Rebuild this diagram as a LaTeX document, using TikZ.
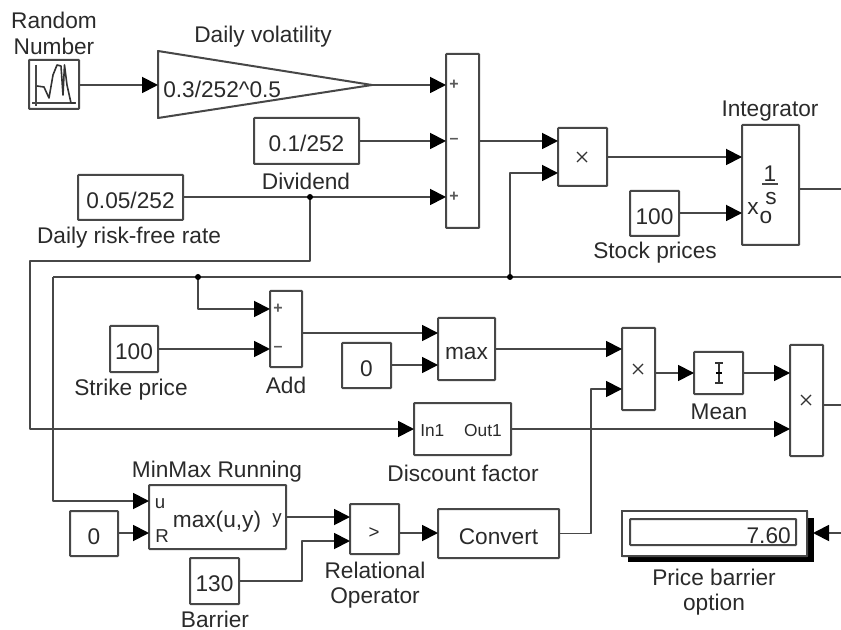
\documentclass[tikz,border=0pt]{standalone}
\usepackage{fontspec}
\setmainfont{Liberation Sans}
\usetikzlibrary{arrows.meta}
\definecolor{wirec}{HTML}{474747}
\definecolor{textc}{HTML}{2A2A2A}
\tikzset{
  x=0.75pt,y=-0.75pt,
  wire/.style={draw=wirec,line width=1.4pt,line join=round},
  arr/.style={wire,-{Triangle[length=12pt,width=12pt,fill=black,color=black]}},
  blockbox/.style={draw=wirec,line width=1.5pt,inner sep=0pt,outer sep=0pt,rounded corners=0.5pt,font=\fontsize{17}{19}\selectfont,text=textc,align=center},
  lab/.style={font=\fontsize{17}{19}\selectfont,text=textc,inner sep=0pt,align=center},
  plainlab/.style={font=\fontsize{17}{19}\selectfont,text=textc,inner sep=0pt},
  small/.style={font=\fontsize{14}{18}\selectfont,text=textc,inner sep=0pt},
  sign/.style={font=\fontsize{12}{14}\selectfont\bfseries,text=black!65,inner sep=0pt},
  dotj/.style={circle,fill=black,inner sep=0pt,minimum size=4.5pt},
}
\newcommand{\blk}[6]{%
  \pgfmathsetmacro{\cxx}{(#2+#4)/2}%
  \pgfmathsetmacro{\cyy}{(#3+#5)/2}%
  \pgfmathsetmacro{\www}{(#4-#2)*0.75}%
  \pgfmathsetmacro{\hhh}{(#5-#3)*0.75}%
  \node[blockbox,minimum width=\www pt,minimum height=\hhh pt] (#1) at (\cxx,\cyy) {\smash{\raisebox{-8pt}{#6}}};}
\begin{document}
\begin{tikzpicture}
\useasboundingbox (0,0) rectangle (841,630);
\begin{scope}
\clip (0,0) rectangle (841,630);

% blocks
\blk{rnd}{29}{60}{79}{109}{}
\draw[wirec,line width=1.1pt] (36,65) -- (36,106);
\draw[wirec,line width=1.1pt] (32,103) -- (76,103);
\draw[black!80,line width=1.2pt,line join=round] (37,86) -- (44,87) -- (49,98) -- (53,75) -- (57,65) -- (61,66) -- (63,95) -- (64.5,65) -- (67,85) -- (71,103) -- (75,103);
\coordinate (gainin) at (158,85);
\coordinate (gainout) at (372,85);
\draw[wirec,line width=1.5pt,line join=round] (158,51) -- (gainout) -- (158,118) -- cycle;
\node[plainlab,anchor=west] (gaintxt) at (163,89) {0.3/252\textasciicircum 0.5};
\blk{sum}{446}{54}{479}{228}{}
\blk{div}{254}{118}{359}{164}{0.1/252}
\blk{rate}{78}{175}{183}{220}{0.05/252}
\blk{prodA}{558}{128}{607}{186}{}
\blk{integ}{742}{125}{799}{245}{}
\blk{stock}{630}{191}{679}{236}{100}
\blk{add}{270}{291}{302}{367}{}
\blk{strike}{110}{326}{158}{372}{100}
\blk{zeroA}{342}{343}{391}{388}{0}
\blk{maxb}{438}{318}{495}{380}{max}
\blk{prodB}{622}{328}{655}{410}{}
\blk{meanb}{694}{352}{743}{394}{}
\blk{prodC}{790}{345}{823}{456}{}
\blk{disc}{414}{403}{511}{455}{}
\blk{conv}{438}{509}{559}{558}{Convert}
\blk{rel}{350}{504}{399}{554}{}
\blk{mm}{149}{485}{286}{549}{}
\blk{zeroB}{70}{511}{118}{556}{0}
\blk{barr}{190}{558}{239}{604}{130}

% display
\fill[black] (628,518) rectangle (814,562);
\blk{disp}{622}{511}{807}{556}{}
\fill[white] (disp.south west) rectangle (disp.north east);
\draw[wirec,line width=1.5pt] (disp.south west) rectangle (disp.north east);
\blk{dispin}{630}{519}{796}{545}{}
\node[plainlab,anchor=east] (dispval) at (791,535.5) {7.60};

% ports
\coordinate (s1) at (446,85);
\coordinate (s2) at (446,141);
\coordinate (s3) at (446,197);
\coordinate (pa1) at (558,141);
\coordinate (pa2) at (558,173);
\coordinate (ia) at (742,157);
\coordinate (ib) at (742,213);
\coordinate (ao) at (841,189);
\coordinate (a1) at (270,309);
\coordinate (a2) at (270,349);
\coordinate (m1) at (438,333);
\coordinate (m2) at (438,365);
\coordinate (pb1) at (622,349);
\coordinate (pb2) at (622,389);
\coordinate (me) at (694,373);
\coordinate (pc1) at (790,373);
\coordinate (pc2) at (790,429);
\coordinate (po) at (841,405);
\coordinate (di) at (414,429);
\coordinate (mu) at (149,501);
\coordinate (mr) at (149,533);
\coordinate (my) at (286,517);
\coordinate (r1) at (350,517);
\coordinate (r2) at (350,541);
\coordinate (co) at (438,533);
\coordinate (dp) at (813,533);
\coordinate (dpe) at (841,533);
\coordinate (bus1) at (841,277);
\coordinate (busl) at (53,277);
\coordinate (ratel) at (30,261);
\coordinate (j1) at (310,197);
\coordinate (j2) at (510,277);
\coordinate (j3) at (198,277);

% wires
\draw[arr] (rnd.east |- gainin) -- (gainin);
\draw[arr] (gainout) -- (s1);
\draw[arr] (div.east |- s2) -- (s2);
\draw[arr] (rate.east |- s3) -- (s3);
\draw[arr] (sum.east |- pa1) -- (pa1);
\draw[arr] (j2) |- (pa2);
\draw[arr] (prodA.east |- ia) -- (ia);
\draw[arr] (stock.east |- ib) -- (ib);
\draw[wire] (integ.east |- ao) -- (ao);
\draw[wire] (busl) -- (bus1);
\draw[arr] (busl) |- (mu);
\draw[arr] (j1) |- (ratel) |- (di);
\draw[arr] (j3) |- (a1);
\draw[arr] (strike.east |- a2) -- (a2);
\draw[arr] (add.east |- m1) -- (m1);
\draw[arr] (zeroA.east |- m2) -- (m2);
\draw[arr] (maxb.east |- pb1) -- (pb1);
\draw[arr] (prodB.east |- me) -- (me);
\draw[arr] (meanb.east |- pc1) -- (pc1);
\draw[wire] (prodC.east |- po) -- (po);
\draw[arr] (disc.east |- pc2) -- (pc2);
\draw[arr] (zeroB.east |- mr) -- (mr);
\draw[arr] (my) -- (r1);
\draw[arr] (barr.east) -| (302,541) -- (r2);
\draw[arr] (rel.east |- co) -- (co);
\draw[arr] (conv.east) -| (591,389) -- (pb2);
\draw[arr] (dpe) -- (dp);
\node[dotj] (dj1) at (j1) {};
\node[dotj] (dj2) at (j2) {};
\node[dotj] (dj3) at (j3) {};

% block glyphs
\node[sign] (sp1) at (454,85) {+};
\node[sign] (sm2) at (454,141) {\textendash};
\node[sign] (sp3) at (454,197) {+};
\node[sign] (ap1) at (278,309) {+};
\node[sign] (am2) at (278,349) {\textendash};
\draw[black!80,line width=1pt] (577,152) -- (587,162) (577,162) -- (587,152);
\draw[black!80,line width=1pt] (633,364) -- (643,374) (633,374) -- (643,364);
\draw[black!80,line width=1pt] (801,395) -- (811,405) (801,405) -- (811,395);
\node[small] (gt) at (374,533) {>};
\draw[black!80,line width=1.2pt] (719,363) -- (719,383) (715,363) -- (723,363) (715,383) -- (723,383);
\draw[black,line width=1.8pt] (716,373) -- (722,373);
\node[plainlab] (i1) at (770,174) {1};
\draw[wirec,line width=1.1pt] (762,184) -- (778,184);
\node[plainlab] (is) at (771,199) {s};
\node[plainlab] (ix) at (753,209) {x};
\node[plainlab] (io) at (766,218) {o};
\node[small] (mu1) at (160,504) {u};
\node[small] (mr1) at (162,536) {R};
\node[plainlab] (mtxt) at (217,522) {max(u,y)};
\node[small] (my1) at (277,521) {y};
\node[font=\fontsize{13}{15}\selectfont,text=textc,inner sep=0pt,anchor=west] (dIn) at (420,431) {In1};
\node[font=\fontsize{13}{15}\selectfont,text=textc,inner sep=0pt,anchor=east] (dOut) at (502,431) {Out1};

% labels
\node[lab] (l1) at (54,33.5) {Random\\Number};
\node[plainlab] (l2) at (263,37) {Daily volatility};
\node[plainlab] (l3) at (306,181) {Dividend};
\node[plainlab] (l4) at (129,238) {Daily risk-free rate};
\node[plainlab] (l5) at (770,111) {Integrator};
\node[plainlab] (l6) at (655,253) {Stock prices};
\node[plainlab] (l7) at (131,390) {Strike price};
\node[plainlab] (l8) at (286,385) {Add};
\node[plainlab] (l9) at (719,412) {Mean};
\node[plainlab] (l10) at (217,472) {MinMax Running};
\node[plainlab] (l11) at (463,473) {Discount factor};
\node[lab] (l12) at (375,585) {Relational\\Operator};
\node[plainlab] (l13) at (215,619) {Barrier};
\node[lab] (l14) at (714,592) {Price barrier\\option};
\end{scope}
\end{tikzpicture}
\end{document}
